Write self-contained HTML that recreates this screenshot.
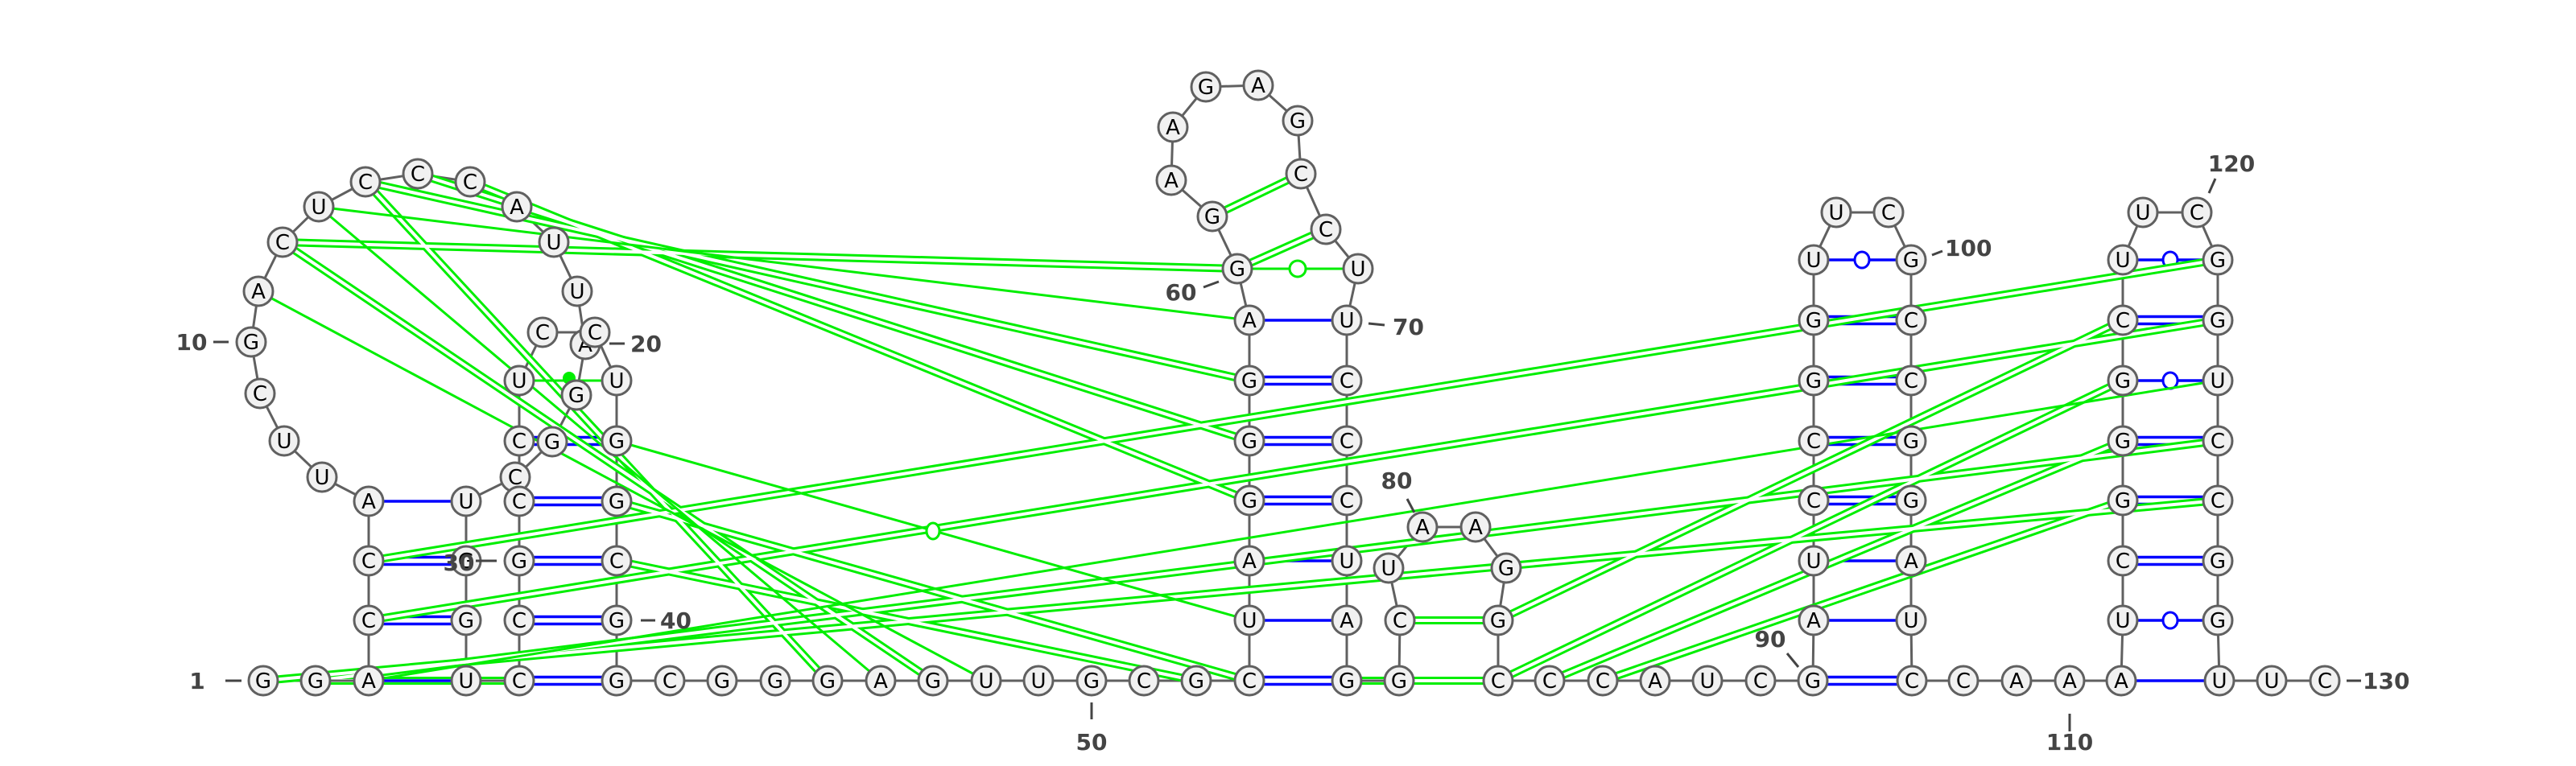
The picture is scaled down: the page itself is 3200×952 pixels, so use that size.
<!DOCTYPE html>
<html><head><meta charset="utf-8"><style>
html,body{margin:0;padding:0;background:#fff;}
svg{display:block;}
.n circle{fill:#f1f1f1;stroke:#606060;stroke-width:3;}
.n text{font-family:"DejaVu Sans","Liberation Sans",sans-serif;font-size:26px;text-anchor:middle;fill:#000;}
.lb{font-family:"DejaVu Sans","Liberation Sans",sans-serif;font-size:28px;fill:#444;font-weight:bold;}
.tk{stroke:#444;stroke-width:3;}
.gd{stroke:#00ee00;stroke-width:10;}
.gc{stroke:#fff;stroke-width:4;}
.gs{stroke:#00ee00;stroke-width:3;}
.b{stroke:#0000ff;stroke-width:3.5;}
</style></head><body>
<svg width="3200" height="952" viewBox="0 0 3200 952" xmlns="http://www.w3.org/2000/svg">
<rect width="3200" height="952" fill="#fff"/>
<!-- backbone -->
<polyline fill="none" stroke="#606060" stroke-width="3" points="327,846 392,846 458,846 458,771 458,697 458,623 400,593 353,548 323,489 312,425 321,362 351,301 396,257 454,226 519,216 584,226 642,257 688,301 717,362 727,428 716,491 686,549 640,593 579,623 579,697 579,771 579,846 645,846 645,771 645,697 645,623 645,548 645,473 674,413 739,413 766,473 766,548 766,623 766,697 766,771 766,846 832,846 897,846 963,846 1028,846 1094,846 1159,846 1225,846 1290,846 1356,846 1421,846 1486,846 1552,846 1552,771 1552,697 1552,622 1552,548 1552,473 1552,398 1537,334 1506,269 1455,224 1457,158 1498,108 1563,106 1612,150 1616,216 1647,285 1687,334 1673,398 1673,473 1673,548 1673,622 1673,697 1673,771 1673,846 1738,846 1739,771 1725,706 1767,655 1833,655 1871,706 1861,771 1861,846 1925,846 1991,846 2056,846 2121,846 2187,846 2252,846 2253,771 2253,697 2253,622 2253,548 2253,473 2253,398 2253,323 2281,264 2346,264 2374,323 2374,398 2374,473 2374,548 2374,622 2374,697 2374,771 2375,846 2439,846 2505,846 2571,846 2635,846 2637,771 2637,697 2637,622 2637,548 2637,473 2637,398 2637,323 2662,264 2729,264 2755,323 2755,398 2755,473 2755,548 2755,622 2755,697 2755,771 2757,846 2822,846 2888,846"/>

<!-- blue pairs -->
<g class="b">
<line x1="458" y1="846" x2="579" y2="846"/>
<line x1="458" y1="766.5" x2="579" y2="766.5"/><line x1="458" y1="775.5" x2="579" y2="775.5"/>
<line x1="458" y1="692.5" x2="579" y2="692.5"/><line x1="458" y1="701.5" x2="579" y2="701.5"/>
<line x1="458" y1="623" x2="579" y2="623"/>
<line x1="645" y1="841.5" x2="766" y2="841.5"/><line x1="645" y1="850.5" x2="766" y2="850.5"/>
<line x1="645" y1="766.5" x2="766" y2="766.5"/><line x1="645" y1="775.5" x2="766" y2="775.5"/>
<line x1="645" y1="692.5" x2="766" y2="692.5"/><line x1="645" y1="701.5" x2="766" y2="701.5"/>
<line x1="645" y1="618.5" x2="766" y2="618.5"/><line x1="645" y1="627.5" x2="766" y2="627.5"/>
<line x1="645" y1="543.5" x2="766" y2="543.5"/><line x1="645" y1="552.5" x2="766" y2="552.5"/>
<line x1="1552" y1="841.5" x2="1673" y2="841.5"/><line x1="1552" y1="850.5" x2="1673" y2="850.5"/>
<line x1="1552" y1="771" x2="1673" y2="771"/>
<line x1="1552" y1="697" x2="1673" y2="697"/>
<line x1="1552" y1="617.5" x2="1673" y2="617.5"/><line x1="1552" y1="626.5" x2="1673" y2="626.5"/>
<line x1="1552" y1="543.5" x2="1673" y2="543.5"/><line x1="1552" y1="552.5" x2="1673" y2="552.5"/>
<line x1="1552" y1="468.5" x2="1673" y2="468.5"/><line x1="1552" y1="477.5" x2="1673" y2="477.5"/>
<line x1="1552" y1="398" x2="1673" y2="398"/>
<line x1="2252" y1="841.5" x2="2375" y2="841.5"/><line x1="2252" y1="850.5" x2="2375" y2="850.5"/>
<line x1="2253" y1="771" x2="2374" y2="771"/>
<line x1="2253" y1="697" x2="2374" y2="697"/>
<line x1="2253" y1="617.5" x2="2374" y2="617.5"/><line x1="2253" y1="626.5" x2="2374" y2="626.5"/>
<line x1="2253" y1="543.5" x2="2374" y2="543.5"/><line x1="2253" y1="552.5" x2="2374" y2="552.5"/>
<line x1="2253" y1="468.5" x2="2374" y2="468.5"/><line x1="2253" y1="477.5" x2="2374" y2="477.5"/>
<line x1="2253" y1="393.5" x2="2374" y2="393.5"/><line x1="2253" y1="402.5" x2="2374" y2="402.5"/>
<line x1="2253" y1="323" x2="2374" y2="323"/>
<line x1="2635" y1="846" x2="2757" y2="846"/>
<line x1="2637" y1="771" x2="2755" y2="771"/>
<line x1="2637" y1="692.5" x2="2755" y2="692.5"/><line x1="2637" y1="701.5" x2="2755" y2="701.5"/>
<line x1="2637" y1="617.5" x2="2755" y2="617.5"/><line x1="2637" y1="626.5" x2="2755" y2="626.5"/>
<line x1="2637" y1="543.5" x2="2755" y2="543.5"/><line x1="2637" y1="552.5" x2="2755" y2="552.5"/>
<line x1="2637" y1="473" x2="2755" y2="473"/>
<line x1="2637" y1="393.5" x2="2755" y2="393.5"/><line x1="2637" y1="402.5" x2="2755" y2="402.5"/>
<line x1="2637" y1="323" x2="2755" y2="323"/>
</g>
<g fill="#fff" stroke="#0000ff" stroke-width="3">
<ellipse cx="2313" cy="323" rx="9" ry="10"/>
<ellipse cx="2696" cy="323" rx="9" ry="10"/>
<ellipse cx="2696" cy="473" rx="9" ry="10"/>
<ellipse cx="2696" cy="771" rx="9" ry="10"/>
</g>

<!-- green double lines -->
<g class="gd">
<line x1="351" y1="301" x2="1537" y2="334"/>
<line x1="454" y1="226" x2="1552" y2="473"/>
<line x1="519" y1="216" x2="1552" y2="548"/>
<line x1="584" y1="226" x2="1552" y2="622"/>
<line x1="454" y1="226" x2="1028" y2="846"/>
<line x1="351" y1="301" x2="1159" y2="846"/>
<line x1="458" y1="697" x2="2755" y2="323"/>
<line x1="458" y1="771" x2="2755" y2="398"/>
<line x1="392" y1="846" x2="2755" y2="548"/>
<line x1="327" y1="846" x2="2755" y2="622"/>
<line x1="1861" y1="771" x2="2637" y2="398"/>
<line x1="1861" y1="846" x2="2637" y2="473"/>
<line x1="1925" y1="846" x2="2637" y2="548"/>
<line x1="1991" y1="846" x2="2637" y2="622"/>
<line x1="766" y1="623" x2="1552" y2="846"/>
<line x1="766" y1="697" x2="1486" y2="846"/>
<line x1="1506" y1="269" x2="1616" y2="216"/>
<line x1="1537" y1="334" x2="1647" y2="285"/>
<line x1="1739" y1="771" x2="1861" y2="771"/>
<line x1="1738" y1="846" x2="1861" y2="846"/>
<line x1="1673" y1="846" x2="1738" y2="846"/>
<line x1="392" y1="846" x2="645" y2="846"/>
</g>
<g class="gc">
<line x1="351" y1="301" x2="1537" y2="334"/>
<line x1="454" y1="226" x2="1552" y2="473"/>
<line x1="519" y1="216" x2="1552" y2="548"/>
<line x1="584" y1="226" x2="1552" y2="622"/>
<line x1="454" y1="226" x2="1028" y2="846"/>
<line x1="351" y1="301" x2="1159" y2="846"/>
<line x1="458" y1="697" x2="2755" y2="323"/>
<line x1="458" y1="771" x2="2755" y2="398"/>
<line x1="392" y1="846" x2="2755" y2="548"/>
<line x1="327" y1="846" x2="2755" y2="622"/>
<line x1="1861" y1="771" x2="2637" y2="398"/>
<line x1="1861" y1="846" x2="2637" y2="473"/>
<line x1="1925" y1="846" x2="2637" y2="548"/>
<line x1="1991" y1="846" x2="2637" y2="622"/>
<line x1="766" y1="623" x2="1552" y2="846"/>
<line x1="766" y1="697" x2="1486" y2="846"/>
<line x1="1506" y1="269" x2="1616" y2="216"/>
<line x1="1537" y1="334" x2="1647" y2="285"/>
<line x1="1739" y1="771" x2="1861" y2="771"/>
<line x1="1738" y1="846" x2="1861" y2="846"/>
<line x1="1673" y1="846" x2="1738" y2="846"/>
<line x1="392" y1="846" x2="645" y2="846"/>
</g>
<!-- restore backbone segments hidden by white cores -->
<polyline fill="none" stroke="#606060" stroke-width="3" points="392,846 458,846"/>
<line x1="579" y1="846" x2="645" y2="846" stroke="#606060" stroke-width="3"/>
<line x1="458" y1="846" x2="579" y2="846" class="b"/>
<line x1="1673" y1="846" x2="1738" y2="846" stroke="#606060" stroke-width="3"/>
<!-- green singles -->
<g class="gs">
<line x1="396" y1="257" x2="1552" y2="398"/>
<line x1="396" y1="257" x2="1094" y2="846"/>
<line x1="321" y1="362" x2="1225" y2="846"/>
<line x1="766" y1="548" x2="1552" y2="771"/>
<line x1="458" y1="846" x2="2755" y2="473"/>
<line x1="1537" y1="334" x2="1687" y2="334"/>
<line x1="645" y1="473" x2="766" y2="473"/>
</g>
<ellipse cx="1159" cy="660" rx="8" ry="10" fill="#fff" stroke="#00ee00" stroke-width="3"/>
<circle cx="1612" cy="334" r="10" fill="#fff" stroke="#00ee00" stroke-width="3"/>
<circle cx="707" cy="470" r="8" fill="#00ee00"/>

<!-- nodes -->
<g class="n">
<circle cx="327" cy="846" r="18"/><text x="327" y="855">G</text>
<circle cx="392" cy="846" r="18"/><text x="392" y="855">G</text>
<circle cx="458" cy="846" r="18"/><text x="458" y="855">A</text>
<circle cx="458" cy="771" r="18"/><text x="458" y="780">C</text>
<circle cx="458" cy="697" r="18"/><text x="458" y="706">C</text>
<circle cx="458" cy="623" r="18"/><text x="458" y="632">A</text>
<circle cx="400" cy="593" r="18"/><text x="400" y="602">U</text>
<circle cx="353" cy="548" r="18"/><text x="353" y="557">U</text>
<circle cx="323" cy="489" r="18"/><text x="323" y="498">C</text>
<circle cx="312" cy="425" r="18"/><text x="312" y="434">G</text>
<circle cx="321" cy="362" r="18"/><text x="321" y="371">A</text>
<circle cx="351" cy="301" r="18"/><text x="351" y="310">C</text>
<circle cx="396" cy="257" r="18"/><text x="396" y="266">U</text>
<circle cx="454" cy="226" r="18"/><text x="454" y="235">C</text>
<circle cx="519" cy="216" r="18"/><text x="519" y="225">C</text>
<circle cx="584" cy="226" r="18"/><text x="584" y="235">C</text>
<circle cx="642" cy="257" r="18"/><text x="642" y="266">A</text>
<circle cx="688" cy="301" r="18"/><text x="688" y="310">U</text>
<circle cx="717" cy="362" r="18"/><text x="717" y="371">U</text>
<circle cx="727" cy="428" r="18"/><text x="727" y="437">A</text>
<circle cx="716" cy="491" r="18"/><text x="716" y="500">G</text>
<circle cx="686" cy="549" r="18"/><text x="686" y="558">G</text>
<circle cx="640" cy="593" r="18"/><text x="640" y="602">C</text>
<circle cx="579" cy="623" r="18"/><text x="579" y="632">U</text>
<circle cx="579" cy="697" r="18"/><text x="579" y="706">G</text>
<circle cx="579" cy="771" r="18"/><text x="579" y="780">G</text>
<circle cx="579" cy="846" r="18"/><text x="579" y="855">U</text>
<circle cx="645" cy="846" r="18"/><text x="645" y="855">C</text>
<circle cx="645" cy="771" r="18"/><text x="645" y="780">C</text>
<circle cx="645" cy="697" r="18"/><text x="645" y="706">G</text>
<circle cx="645" cy="623" r="18"/><text x="645" y="632">C</text>
<circle cx="645" cy="548" r="18"/><text x="645" y="557">C</text>
<circle cx="645" cy="473" r="18"/><text x="645" y="482">U</text>
<circle cx="674" cy="413" r="18"/><text x="674" y="422">C</text>
<circle cx="739" cy="413" r="18"/><text x="739" y="422">C</text>
<circle cx="766" cy="473" r="18"/><text x="766" y="482">U</text>
<circle cx="766" cy="548" r="18"/><text x="766" y="557">G</text>
<circle cx="766" cy="623" r="18"/><text x="766" y="632">G</text>
<circle cx="766" cy="697" r="18"/><text x="766" y="706">C</text>
<circle cx="766" cy="771" r="18"/><text x="766" y="780">G</text>
<circle cx="766" cy="846" r="18"/><text x="766" y="855">G</text>
<circle cx="832" cy="846" r="18"/><text x="832" y="855">C</text>
<circle cx="897" cy="846" r="18"/><text x="897" y="855">G</text>
<circle cx="963" cy="846" r="18"/><text x="963" y="855">G</text>
<circle cx="1028" cy="846" r="18"/><text x="1028" y="855">G</text>
<circle cx="1094" cy="846" r="18"/><text x="1094" y="855">A</text>
<circle cx="1159" cy="846" r="18"/><text x="1159" y="855">G</text>
<circle cx="1225" cy="846" r="18"/><text x="1225" y="855">U</text>
<circle cx="1290" cy="846" r="18"/><text x="1290" y="855">U</text>
<circle cx="1356" cy="846" r="18"/><text x="1356" y="855">G</text>
<circle cx="1421" cy="846" r="18"/><text x="1421" y="855">C</text>
<circle cx="1486" cy="846" r="18"/><text x="1486" y="855">G</text>
<circle cx="1552" cy="846" r="18"/><text x="1552" y="855">C</text>
<circle cx="1552" cy="771" r="18"/><text x="1552" y="780">U</text>
<circle cx="1552" cy="697" r="18"/><text x="1552" y="706">A</text>
<circle cx="1552" cy="622" r="18"/><text x="1552" y="631">G</text>
<circle cx="1552" cy="548" r="18"/><text x="1552" y="557">G</text>
<circle cx="1552" cy="473" r="18"/><text x="1552" y="482">G</text>
<circle cx="1552" cy="398" r="18"/><text x="1552" y="407">A</text>
<circle cx="1537" cy="334" r="18"/><text x="1537" y="343">G</text>
<circle cx="1506" cy="269" r="18"/><text x="1506" y="278">G</text>
<circle cx="1455" cy="224" r="18"/><text x="1455" y="233">A</text>
<circle cx="1457" cy="158" r="18"/><text x="1457" y="167">A</text>
<circle cx="1498" cy="108" r="18"/><text x="1498" y="117">G</text>
<circle cx="1563" cy="106" r="18"/><text x="1563" y="115">A</text>
<circle cx="1612" cy="150" r="18"/><text x="1612" y="159">G</text>
<circle cx="1616" cy="216" r="18"/><text x="1616" y="225">C</text>
<circle cx="1647" cy="285" r="18"/><text x="1647" y="294">C</text>
<circle cx="1687" cy="334" r="18"/><text x="1687" y="343">U</text>
<circle cx="1673" cy="398" r="18"/><text x="1673" y="407">U</text>
<circle cx="1673" cy="473" r="18"/><text x="1673" y="482">C</text>
<circle cx="1673" cy="548" r="18"/><text x="1673" y="557">C</text>
<circle cx="1673" cy="622" r="18"/><text x="1673" y="631">C</text>
<circle cx="1673" cy="697" r="18"/><text x="1673" y="706">U</text>
<circle cx="1673" cy="771" r="18"/><text x="1673" y="780">A</text>
<circle cx="1673" cy="846" r="18"/><text x="1673" y="855">G</text>
<circle cx="1738" cy="846" r="18"/><text x="1738" y="855">G</text>
<circle cx="1739" cy="771" r="18"/><text x="1739" y="780">C</text>
<circle cx="1725" cy="706" r="18"/><text x="1725" y="715">U</text>
<circle cx="1767" cy="655" r="18"/><text x="1767" y="664">A</text>
<circle cx="1833" cy="655" r="18"/><text x="1833" y="664">A</text>
<circle cx="1871" cy="706" r="18"/><text x="1871" y="715">G</text>
<circle cx="1861" cy="771" r="18"/><text x="1861" y="780">G</text>
<circle cx="1861" cy="846" r="18"/><text x="1861" y="855">C</text>
<circle cx="1925" cy="846" r="18"/><text x="1925" y="855">C</text>
<circle cx="1991" cy="846" r="18"/><text x="1991" y="855">C</text>
<circle cx="2056" cy="846" r="18"/><text x="2056" y="855">A</text>
<circle cx="2121" cy="846" r="18"/><text x="2121" y="855">U</text>
<circle cx="2187" cy="846" r="18"/><text x="2187" y="855">C</text>
<circle cx="2252" cy="846" r="18"/><text x="2252" y="855">G</text>
<circle cx="2253" cy="771" r="18"/><text x="2253" y="780">A</text>
<circle cx="2253" cy="697" r="18"/><text x="2253" y="706">U</text>
<circle cx="2253" cy="622" r="18"/><text x="2253" y="631">C</text>
<circle cx="2253" cy="548" r="18"/><text x="2253" y="557">C</text>
<circle cx="2253" cy="473" r="18"/><text x="2253" y="482">G</text>
<circle cx="2253" cy="398" r="18"/><text x="2253" y="407">G</text>
<circle cx="2253" cy="323" r="18"/><text x="2253" y="332">U</text>
<circle cx="2281" cy="264" r="18"/><text x="2281" y="273">U</text>
<circle cx="2346" cy="264" r="18"/><text x="2346" y="273">C</text>
<circle cx="2374" cy="323" r="18"/><text x="2374" y="332">G</text>
<circle cx="2374" cy="398" r="18"/><text x="2374" y="407">C</text>
<circle cx="2374" cy="473" r="18"/><text x="2374" y="482">C</text>
<circle cx="2374" cy="548" r="18"/><text x="2374" y="557">G</text>
<circle cx="2374" cy="622" r="18"/><text x="2374" y="631">G</text>
<circle cx="2374" cy="697" r="18"/><text x="2374" y="706">A</text>
<circle cx="2374" cy="771" r="18"/><text x="2374" y="780">U</text>
<circle cx="2375" cy="846" r="18"/><text x="2375" y="855">C</text>
<circle cx="2439" cy="846" r="18"/><text x="2439" y="855">C</text>
<circle cx="2505" cy="846" r="18"/><text x="2505" y="855">A</text>
<circle cx="2571" cy="846" r="18"/><text x="2571" y="855">A</text>
<circle cx="2635" cy="846" r="18"/><text x="2635" y="855">A</text>
<circle cx="2637" cy="771" r="18"/><text x="2637" y="780">U</text>
<circle cx="2637" cy="697" r="18"/><text x="2637" y="706">C</text>
<circle cx="2637" cy="622" r="18"/><text x="2637" y="631">G</text>
<circle cx="2637" cy="548" r="18"/><text x="2637" y="557">G</text>
<circle cx="2637" cy="473" r="18"/><text x="2637" y="482">G</text>
<circle cx="2637" cy="398" r="18"/><text x="2637" y="407">C</text>
<circle cx="2637" cy="323" r="18"/><text x="2637" y="332">U</text>
<circle cx="2662" cy="264" r="18"/><text x="2662" y="273">U</text>
<circle cx="2729" cy="264" r="18"/><text x="2729" y="273">C</text>
<circle cx="2755" cy="323" r="18"/><text x="2755" y="332">G</text>
<circle cx="2755" cy="398" r="18"/><text x="2755" y="407">G</text>
<circle cx="2755" cy="473" r="18"/><text x="2755" y="482">U</text>
<circle cx="2755" cy="548" r="18"/><text x="2755" y="557">C</text>
<circle cx="2755" cy="622" r="18"/><text x="2755" y="631">C</text>
<circle cx="2755" cy="697" r="18"/><text x="2755" y="706">G</text>
<circle cx="2755" cy="771" r="18"/><text x="2755" y="780">G</text>
<circle cx="2757" cy="846" r="18"/><text x="2757" y="855">U</text>
<circle cx="2822" cy="846" r="18"/><text x="2822" y="855">U</text>
<circle cx="2888" cy="846" r="18"/><text x="2888" y="855">C</text>
</g>

<!-- labels -->
<g class="tk">
<line x1="280" y1="846" x2="300" y2="846"/>
<line x1="265" y1="425" x2="284" y2="425"/>
<line x1="757" y1="427" x2="776" y2="427"/>
<line x1="591" y1="697" x2="617" y2="697"/>
<line x1="796" y1="771" x2="814" y2="771"/>
<line x1="1356" y1="873" x2="1356" y2="894"/>
<line x1="1495" y1="357" x2="1514" y2="350"/>
<line x1="1700" y1="402" x2="1720" y2="404"/>
<line x1="1748" y1="620" x2="1757" y2="637"/>
<line x1="2220" y1="812" x2="2234" y2="829"/>
<line x1="2400" y1="317" x2="2413" y2="312"/>
<line x1="2571" y1="887" x2="2571" y2="909"/>
<line x1="2744" y1="240" x2="2752" y2="222"/>
<line x1="2915" y1="846" x2="2933" y2="846"/>
</g>
<g class="lb">
<text x="245" y="856" text-anchor="middle">1</text>
<text x="238" y="435" text-anchor="middle">10</text>
<text x="783" y="437">20</text>
<text x="570" y="709" text-anchor="middle">30</text>
<text x="820" y="781">40</text>
<text x="1356" y="932" text-anchor="middle">50</text>
<text x="1467" y="373" text-anchor="middle">60</text>
<text x="1730" y="416">70</text>
<text x="1735" y="607" text-anchor="middle">80</text>
<text x="2199" y="804" text-anchor="middle">90</text>
<text x="2416" y="318">100</text>
<text x="2571" y="932" text-anchor="middle">110</text>
<text x="2772" y="213" text-anchor="middle">120</text>
<text x="2935" y="856">130</text>
</g>
</svg>
</body></html>
